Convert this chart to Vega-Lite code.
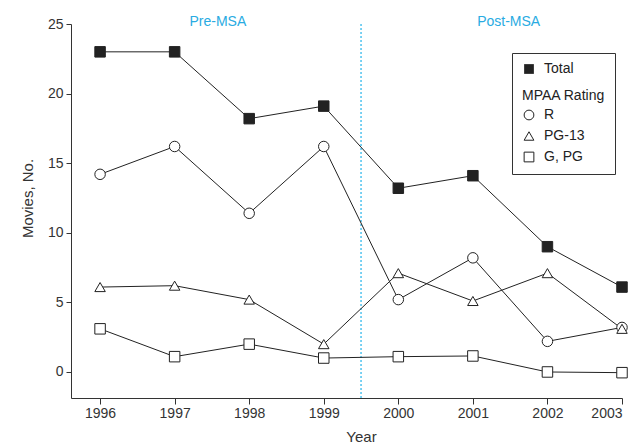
{
  "$schema": "https://vega.github.io/schema/vega-lite/v6.json",
  "width": 551,
  "height": 374,
  "autosize": "none",
  "padding": {"left": 71, "top": 24, "right": 20, "bottom": 45},
  "config": {
    "view": {"stroke": null},
    "font": "Liberation Sans",
    "axis": {
      "domainColor": "#333333",
      "tickColor": "#333333",
      "labelColor": "#333333",
      "titleColor": "#333333",
      "labelFontSize": 14,
      "titleFontSize": 15,
      "titleFontWeight": "normal",
      "grid": false
    },
    "legend": {
      "orient": "none",
      "labelFontSize": 14,
      "labelColor": "#222222",
      "symbolSize": 95,
      "symbolStrokeColor": "#222222",
      "symbolStrokeWidth": 1,
      "labelOffset": 8,
      "rowPadding": 7
    }
  },
  "datasets": {
    "total": [
      {"year": 1996, "series": "Total", "value": 23.0},
      {"year": 1997, "series": "Total", "value": 23.0},
      {"year": 1998, "series": "Total", "value": 18.2},
      {"year": 1999, "series": "Total", "value": 19.1},
      {"year": 2000, "series": "Total", "value": 13.2},
      {"year": 2001, "series": "Total", "value": 14.1},
      {"year": 2002, "series": "Total", "value": 9.0},
      {"year": 2003, "series": "Total", "value": 6.1}
    ],
    "ratings": [
      {"year": 1996, "series": "R", "value": 14.2},
      {"year": 1997, "series": "R", "value": 16.2},
      {"year": 1998, "series": "R", "value": 11.4},
      {"year": 1999, "series": "R", "value": 16.2},
      {"year": 2000, "series": "R", "value": 5.2},
      {"year": 2001, "series": "R", "value": 8.2},
      {"year": 2002, "series": "R", "value": 2.2},
      {"year": 2003, "series": "R", "value": 3.2},
      {"year": 1996, "series": "PG-13", "value": 6.1},
      {"year": 1997, "series": "PG-13", "value": 6.2},
      {"year": 1998, "series": "PG-13", "value": 5.2},
      {"year": 1999, "series": "PG-13", "value": 2.0},
      {"year": 2000, "series": "PG-13", "value": 7.1},
      {"year": 2001, "series": "PG-13", "value": 5.1},
      {"year": 2002, "series": "PG-13", "value": 7.1},
      {"year": 2003, "series": "PG-13", "value": 3.1},
      {"year": 1996, "series": "G, PG", "value": 3.1},
      {"year": 1997, "series": "G, PG", "value": 1.1},
      {"year": 1998, "series": "G, PG", "value": 2.0},
      {"year": 1999, "series": "G, PG", "value": 1.0},
      {"year": 2000, "series": "G, PG", "value": 1.1},
      {"year": 2001, "series": "G, PG", "value": 1.15},
      {"year": 2002, "series": "G, PG", "value": 0.0},
      {"year": 2003, "series": "G, PG", "value": -0.05}
    ],
    "periods": [
      {"year": 1997.58, "value": 25, "label": "Pre-MSA"},
      {"year": 2001.48, "value": 25, "label": "Post-MSA"}
    ],
    "divider": [{"year": 1999.5}]
  },
  "encoding": {
    "x": {
      "field": "year",
      "type": "quantitative",
      "scale": {"domain": [1995.61, 2003], "nice": false, "zero": false},
      "axis": {
        "title": "Year",
        "values": [1996, 1997, 1998, 1999, 2000, 2001, 2002, 2003],
        "format": "d",
        "tickSize": 6,
        "labelPadding": 2,
        "titleX": 290,
        "titleY": 31,
        "titleBaseline": "top"
      }
    }
  },
  "resolve": {
    "scale": {"shape": "independent", "stroke": "independent", "fill": "independent"},
    "legend": {"shape": "independent", "stroke": "independent", "fill": "independent"}
  },
  "layer": [
    {
      "data": {"name": "divider"},
      "mark": {"type": "rule", "color": "#4fc3ef", "strokeDash": [2, 2], "strokeWidth": 1.5},
      "encoding": {}
    },
    {
      "data": {"name": "periods"},
      "mark": {"type": "text", "color": "#29abe2", "fontSize": 14, "baseline": "middle", "dy": -2},
      "encoding": {
        "y": {"field": "value", "type": "quantitative"},
        "text": {"field": "label"}
      }
    },
    {
      "data": {"name": "total"},
      "mark": {"type": "line", "color": "#222222", "strokeWidth": 1},
      "encoding": {
        "y": {
          "field": "value",
          "type": "quantitative",
          "scale": {"domain": [-1.87, 25], "nice": false, "zero": false},
          "axis": {
            "title": "Movies, No.",
            "values": [0, 5, 10, 15, 20, 25],
            "tickSize": 5,
            "labelPadding": 3,
            "titleX": -44,
            "titleY": 174,
            "titleAngle": -90,
            "titleBaseline": "middle",
            "titleAlign": "center"
          }
        }
      }
    },
    {
      "data": {"name": "ratings"},
      "mark": {"type": "line", "color": "#222222", "strokeWidth": 1},
      "encoding": {
        "y": {"field": "value", "type": "quantitative"},
        "detail": {"field": "series"}
      }
    },
    {
      "data": {"name": "ratings"},
      "mark": {"type": "point", "size": 110, "strokeWidth": 1, "opacity": 1, "filled": false},
      "encoding": {
        "y": {"field": "value", "type": "quantitative"},
        "shape": {
          "field": "series",
          "type": "nominal",
          "scale": {
            "domain": ["R", "PG-13", "G, PG"],
            "range": ["circle", "triangle-up", "square"]
          },
          "legend": {
            "title": ["", "MPAA Rating"],
            "titleFontSize": 14,
            "titleFontWeight": "normal",
            "titleColor": "#222222",
            "titleLineHeight": 26,
            "titlePadding": 5,
            "legendX": 441,
            "legendY": 29,
            "padding": 10,
            "strokeColor": "#333333"
          }
        },
        "fill": {
          "field": "series",
          "type": "nominal",
          "scale": {
            "domain": ["R", "PG-13", "G, PG"],
            "range": ["white", "white", "white"]
          },
          "legend": {
            "title": ["", "MPAA Rating"],
            "titleFontSize": 14,
            "titleFontWeight": "normal",
            "titleColor": "#222222",
            "titleLineHeight": 26,
            "titlePadding": 5,
            "legendX": 441,
            "legendY": 29,
            "padding": 10,
            "strokeColor": "#333333"
          }
        },
        "stroke": {
          "field": "series",
          "type": "nominal",
          "scale": {
            "domain": ["R", "PG-13", "G, PG"],
            "range": ["#222222", "#222222", "#222222"]
          },
          "legend": {
            "title": ["", "MPAA Rating"],
            "titleFontSize": 14,
            "titleFontWeight": "normal",
            "titleColor": "#222222",
            "titleLineHeight": 26,
            "titlePadding": 5,
            "legendX": 441,
            "legendY": 29,
            "padding": 10,
            "strokeColor": "#333333"
          }
        }
      }
    },
    {
      "data": {"name": "total"},
      "mark": {"type": "point", "size": 110, "strokeWidth": 1, "opacity": 1, "filled": true, "fill": "#222222", "stroke": "#222222"},
      "encoding": {
        "y": {"field": "value", "type": "quantitative"},
        "shape": {
          "field": "series",
          "type": "nominal",
          "scale": {"domain": ["Total"], "range": ["square"]},
          "legend": {
            "title": null,
            "legendX": 451,
            "legendY": 38,
            "padding": 0,
            "symbolFillColor": "#222222",
            "symbolStrokeColor": "#222222"
          }
        }
      }
    }
  ]
}
